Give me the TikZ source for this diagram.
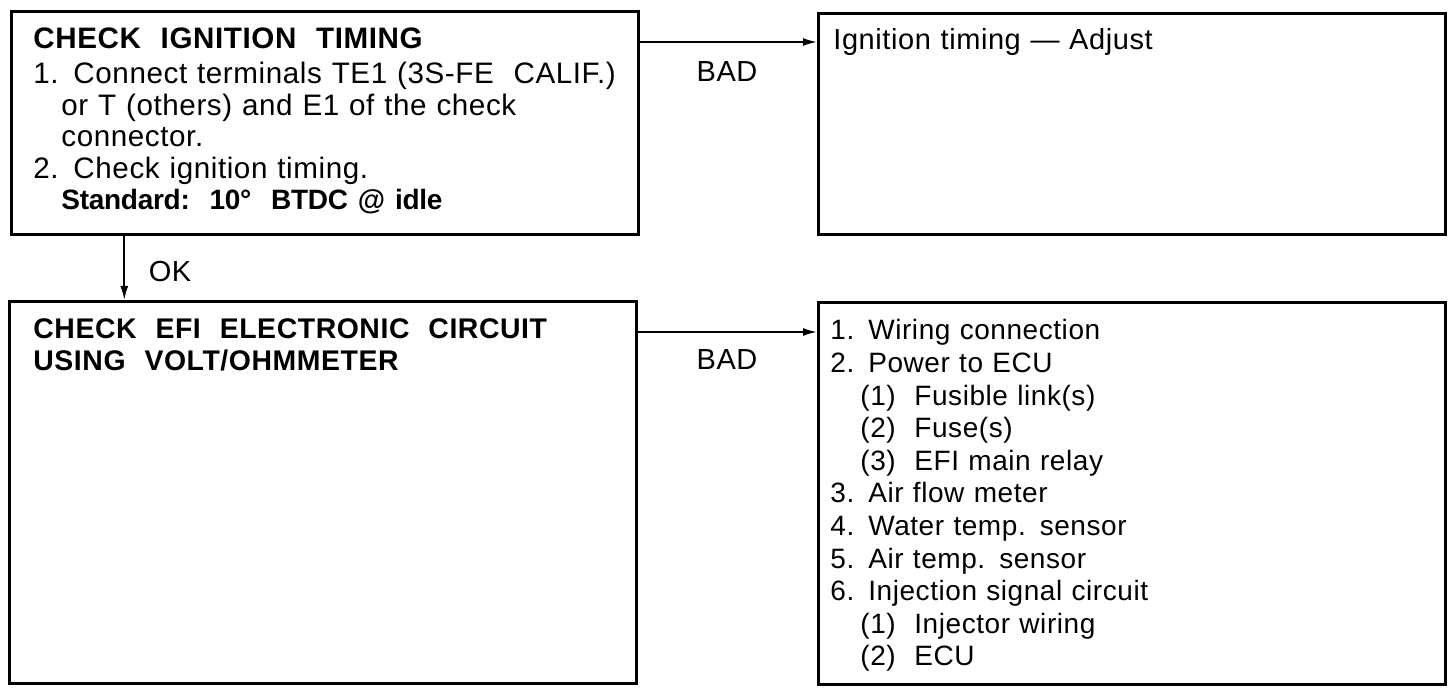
\documentclass[tikz,border=0pt]{standalone}
\usepackage{fontspec}
\setmainfont{Liberation Sans}[LetterSpace=2]
\usetikzlibrary{calc,arrows.meta}

\begin{document}
\begin{tikzpicture}[x=0.5pt, y=-0.5pt,
  stepbox/.style={draw, line width=1.3pt, anchor=north west, minimum width=313.5pt, inner sep=0pt},
  boxtext/.style={anchor=base west, inner sep=0pt, text width=300pt, align=left},
  flow/.style={line width=0.9pt, -{Latex[length=7pt, width=4pt]}},
  tag/.style={font=\fontsize{14.5}{16}\selectfont, inner sep=0pt}]
  \useasboundingbox (0,0) rectangle (1456,694);
  % the four boxes
  \node[stepbox, minimum height=111.5pt] (timing) at (10,10) {};
  \node[stepbox, minimum height=110.5pt] (adjust) at (817,12) {};
  \node[stepbox, minimum height=191pt] (efi) at (8,300) {};
  \node[stepbox, minimum height=191pt] (causes) at (817,301) {};
  % texts in the boxes
  \node[boxtext, font=\fontsize{14.8}{15.8}\selectfont] (timingtext) at (33,49)
    {\textbf{CHECK\ \ IGNITION\ \ TIMING}\\[1.5pt]
     1. Connect terminals TE1 (3S-FE\ \ CALIF.)\\
     \hspace*{14pt}or T (others) and E1 of the check\\
     \hspace*{14pt}connector.\\
     2. Check ignition timing.\\
     \hspace*{14pt}{\fontsize{14}{15.8}\selectfont\addfontfeatures{LetterSpace=-1}\textbf{Standard:\ \ 10°\ \ BTDC @ idle}}};
  \node[boxtext, font=\fontsize{14.5}{16}\selectfont] (adjusttext) at (833,50)
    {Ignition timing --- Adjust};
  \node[boxtext, font=\fontsize{14.2}{15.8}\selectfont] (efitext) at (33,339)
    {\textbf{CHECK\ \ EFI\ \ ELECTRONIC\ \ CIRCUIT}\\
     \textbf{USING\ \ VOLT/OHMMETER}};
  \node[boxtext, font=\fontsize{14}{16.3}\selectfont] (causestext) at (830,340)
    {1. Wiring connection\\
     2. Power to ECU\\
     \hspace*{15pt}(1)\ \ Fusible link(s)\\
     \hspace*{15pt}(2)\ \ Fuse(s)\\
     \hspace*{15pt}(3)\ \ EFI main relay\\
     3. Air flow meter\\
     4. Water temp. sensor\\
     5. Air temp. sensor\\
     6. Injection signal circuit\\
     \hspace*{15pt}(1)\ \ Injector wiring\\
     \hspace*{15pt}(2)\ \ ECU};
  % connectors
  \draw[flow] ([yshift=-16pt]timing.north east) -- ([yshift=-16pt]timing.north east -| adjust.west);
  \draw[flow] ([yshift=-16pt]efi.north east) -- ([yshift=-16pt]efi.north east -| causes.west);
  \draw[flow] ([xshift=-100.25pt]timing.south) -- ([xshift=-100.25pt]timing.south |- efi.north);
  \node[tag] (bad1) at (727,72) {BAD};
  \node[tag] (bad2) at (727,360) {BAD};
  \node[tag] (ok) at (170,272) {OK};
\end{tikzpicture}
\end{document}
